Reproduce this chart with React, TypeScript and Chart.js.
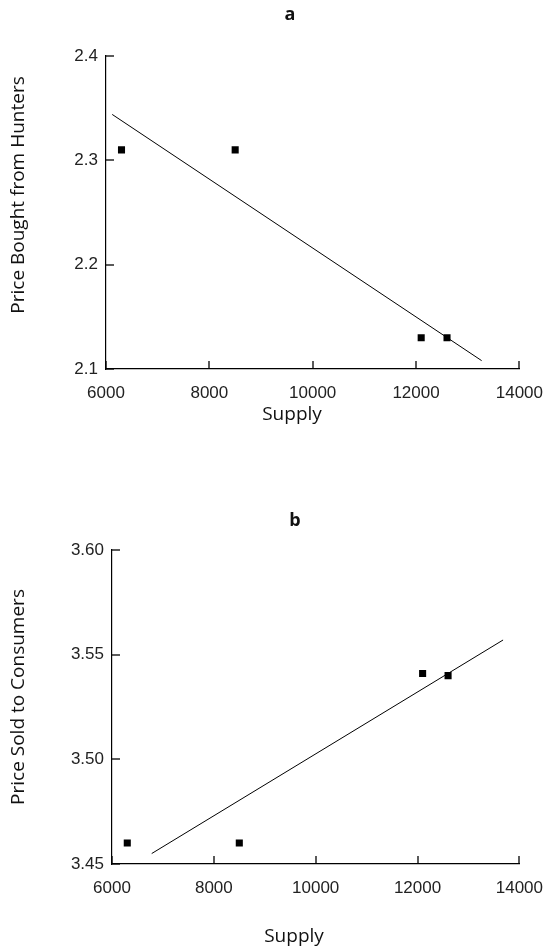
import React, { useEffect, useRef } from 'react';
import { Chart, registerables } from 'chart.js';
Chart.register(...registerables);

// ---- data ----
const supply = [6300, 8500, 12100, 12600];
const priceHunters = [2.31, 2.31, 2.13, 2.13];
const priceConsumers = [3.46, 3.46, 3.541, 3.54];
const trendSupplyA = [6120, 13270];
const trendPriceA = [2.344, 2.108];
const trendSupplyB = [6780, 13680];
const trendPriceB = [3.455, 3.557];
const xTickValues = [6000, 8000, 10000, 12000, 14000];
const xTickLabels = ['6000', '8000', '10000', '12000', '14000'];
const yTickValuesA = [2.1, 2.2, 2.3, 2.4];
const yTickLabelsA = ['2.1', '2.2', '2.3', '2.4'];
const yTickValuesB = [3.45, 3.5, 3.55, 3.6];
const yTickLabelsB = ['3.45', '3.50', '3.55', '3.60'];

const decorPlugin = {
  id: 'decor',
  afterDatasetsDraw(chart: any) {
    const { ctx, chartArea, scales } = chart;
    const xs = scales.x;
    const ys = scales.y;
    ctx.save();
    ctx.strokeStyle = '#000';
    ctx.lineWidth = 1.3;
    for (const v of xTickValues) {
      const px = Math.round(xs.getPixelForValue(v));
      ctx.beginPath();
      ctx.moveTo(px, chartArea.bottom);
      ctx.lineTo(px, chartArea.bottom - 8);
      ctx.stroke();
    }
    for (const t of ys.ticks) {
      const py = Math.round(ys.getPixelForValue(t.value));
      ctx.beginPath();
      ctx.moveTo(chartArea.left, py);
      ctx.lineTo(chartArea.left + 8, py);
      ctx.stroke();
    }
    ctx.restore();
  },
  afterDraw(chart: any, _args: any, opts: any) {
    const { ctx } = chart;
    ctx.save();
    ctx.fillStyle = '#111';
    ctx.textAlign = 'center';
    ctx.textBaseline = 'middle';
    ctx.font = 'bold 18px "Open Sans"';
    ctx.fillText(opts.title, opts.titleX, opts.titleY);
    ctx.font = '19px "Open Sans"';
    ctx.fillText(opts.xTitle, opts.xTitleX, opts.xTitleY);
    ctx.translate(opts.yTitleX, opts.yTitleY);
    ctx.rotate(-Math.PI / 2);
    ctx.fillText(opts.yTitle, 0, 0);
    ctx.restore();
  },
};

type PanelProps = {
  top: number;
  height: number;
  yValues: number[];
  trendX: number[];
  trendY: number[];
  yMin: number;
  yMax: number;
  yTicks: number[];
  yLabels: string[];
  areaLeft: number;
  areaTop: number;
  areaRight: number;
  areaBottom: number;
  title: string;
  titleX: number;
  titleY: number;
  xTitle: string;
  xTitleX: number;
  xTitleY: number;
  yTitle: string;
  yTitleX: number;
  yTitleY: number;
};

function Panel(p: PanelProps) {
  const ref = useRef<HTMLCanvasElement>(null);
  useEffect(() => {
    if (!ref.current) return;
    const tickFont = { family: '"Liberation Sans", Arial, sans-serif', size: 17 };
    const chart = new Chart(ref.current, {
      type: 'scatter',
      data: {
        datasets: [
          {
            data: supply.map((x, i) => ({ x, y: p.yValues[i] })),
            pointStyle: 'rect',
            pointRadius: 5,
            backgroundColor: '#000',
            borderColor: '#000',
            borderWidth: 0,
          },
          {
            data: p.trendX.map((x, i) => ({ x, y: p.trendY[i] })),
            showLine: true,
            pointRadius: 0,
            borderColor: '#000',
            borderWidth: 1,
            fill: false,
          } as any,
        ],
      },
      options: {
        responsive: false,
        animation: false,
        devicePixelRatio: 1,
        layout: {
          padding: {
            left: 0,
            top: p.areaTop,
            right: 557 - p.areaRight,
            bottom: 0,
          },
        },
        plugins: {
          legend: { display: false },
          tooltip: { enabled: false },
          title: { display: false },
          decor: {
            title: p.title,
            titleX: p.titleX,
            titleY: p.titleY,
            xTitle: p.xTitle,
            xTitleX: p.xTitleX,
            xTitleY: p.xTitleY,
            yTitle: p.yTitle,
            yTitleX: p.yTitleX,
            yTitleY: p.yTitleY,
          },
        } as any,
        scales: {
          x: {
            type: 'linear',
            min: 6000,
            max: 14000,
            afterBuildTicks: (s: any) => {
              s.ticks = xTickValues.map((value) => ({ value }));
            },
            afterFit: (s: any) => {
              s.height = p.height - p.areaBottom;
            },
            ticks: {
              autoSkip: false,
              maxRotation: 0,
              padding: 14,
              color: '#222',
              font: tickFont,
              callback: (_v: any, i: number) => xTickLabels[i],
            },
            grid: { display: true, drawOnChartArea: false, drawTicks: false },
            border: { display: true, color: '#000', width: 1.2 },
          },
          y: {
            type: 'linear',
            min: p.yMin,
            max: p.yMax,
            afterBuildTicks: (s: any) => {
              s.ticks = p.yTicks.map((value) => ({ value }));
            },
            afterFit: (s: any) => {
              s.width = p.areaLeft;
            },
            ticks: {
              autoSkip: false,
              padding: 8,
              color: '#222',
              font: tickFont,
              callback: (_v: any, i: number) => p.yLabels[i],
            },
            grid: { display: true, drawOnChartArea: false, drawTicks: false },
            border: { display: true, color: '#000', width: 1.2 },
          },
        },
      },
      plugins: [decorPlugin],
    } as any);
    return () => chart.destroy();
  }, []);
  return (
    <canvas
      ref={ref}
      width={557}
      height={p.height}
      style={{ position: 'absolute', left: 0, top: p.top, width: 557, height: p.height }}
    />
  );
}

export default function App() {
  return (
    <div style={{ position: 'absolute', left: 0, top: 0, width: 557, height: 949, background: '#fff' }}>
      <Panel
        top={0}
        height={440}
        yValues={priceHunters}
        trendX={trendSupplyA}
        trendY={trendPriceA}
        yMin={2.1}
        yMax={2.4}
        yTicks={yTickValuesA}
        yLabels={yTickLabelsA}
        areaLeft={106}
        areaTop={56}
        areaRight={528.6}
        areaBottom={369}
        title="a"
        titleX={290}
        titleY={15}
        xTitle="Supply"
        xTitleX={292}
        xTitleY={415}
        yTitle="Price Bought from Hunters"
        yTitleX={19}
        yTitleY={195}
      />
      <Panel
        top={475}
        height={474}
        yValues={priceConsumers}
        trendX={trendSupplyB}
        trendY={trendPriceB}
        yMin={3.45}
        yMax={3.6}
        yTicks={yTickValuesB}
        yLabels={yTickLabelsB}
        areaLeft={112}
        areaTop={75}
        areaRight={534.6}
        areaBottom={389}
        title="b"
        titleX={295}
        titleY={46}
        xTitle="Supply"
        xTitleX={294}
        xTitleY={462}
        yTitle="Price Sold to Consumers"
        yTitleX={19}
        yTitleY={222}
      />
    </div>
  );
}
